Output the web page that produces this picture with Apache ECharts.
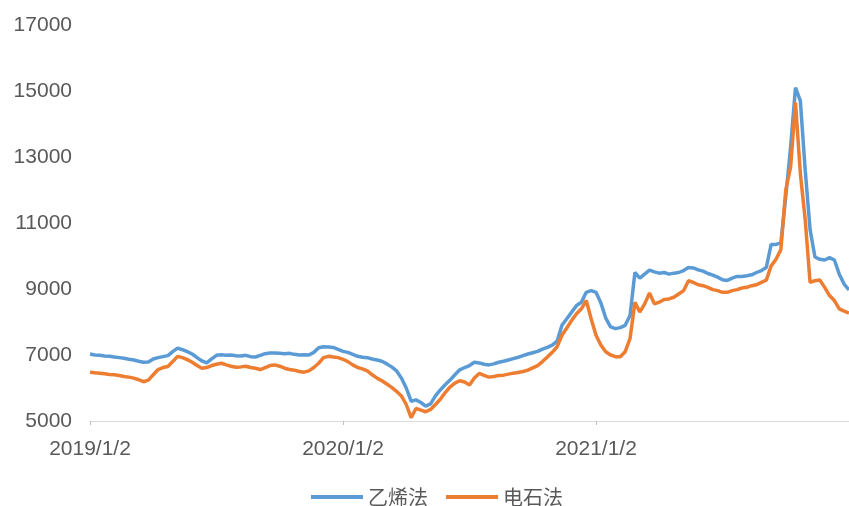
<!DOCTYPE html>
<html>
<head>
<meta charset="utf-8">
<script src="https://cdn.jsdelivr.net/npm/echarts@6/dist/echarts.min.js"></script>
<style>
html,body{margin:0;padding:0;background:#fff;}
#chart{width:849px;height:506px;}
</style>
</head>
<body>
<div id="chart"></div>
<script>
// weekly samples starting 2019/1/2
const startDate = [2019, 1, 2];
const tickLabels = ['2019/1/2', '2020/1/2', '2021/1/2'];
const seriesNames = ['乙烯法', '电石法'];

const ethylene = [
  7030, 7000, 6990, 6970, 6960, 6940, 6920, 6900, 6870, 6850,
  6810, 6780, 6790, 6880, 6920, 6950, 6980, 7100, 7210, 7160,
  7100, 7030, 6920, 6820, 6760, 6880, 6990, 7010, 6990, 7000,
  6980, 6970, 6990, 6950, 6940, 6990, 7040, 7060, 7060, 7050,
  7040, 7050, 7020, 7000, 7010, 7000, 7080, 7220, 7250, 7240,
  7230, 7170, 7110, 7080, 7020, 6960, 6930, 6920, 6880, 6850,
  6810, 6730, 6640, 6520, 6300, 6000, 5600, 5640, 5560, 5450,
  5520, 5760, 5940, 6100, 6240, 6400, 6550, 6620, 6680, 6780,
  6760, 6720, 6700, 6730, 6780, 6810, 6850, 6890, 6930, 6980,
  7030, 7070, 7110, 7180, 7230, 7300, 7420, 7900, 8100, 8300,
  8500, 8600, 8900, 8950, 8900, 8580, 8120, 7850, 7800, 7830,
  7900, 8200, 9500, 9330, 9450, 9570, 9520, 9480, 9500, 9450,
  9480, 9500, 9560, 9650, 9640, 9580, 9540, 9470, 9420, 9360,
  9280, 9260, 9330, 9380, 9380, 9400, 9430, 9500, 9560, 9650,
  10350, 10350, 10400, 11800, 13300, 15100, 14700, 12600, 10800, 9970,
  9900, 9880, 9950, 9880, 9450, 9150, 8970
];

const carbide = [
  6480, 6460, 6450, 6430, 6410, 6400, 6380, 6350, 6330, 6300,
  6250, 6190, 6240, 6400, 6560, 6620, 6650, 6800, 6960, 6920,
  6860, 6780, 6680, 6600, 6620, 6680, 6720, 6750, 6700, 6660,
  6630, 6640, 6660, 6620, 6600, 6560, 6620, 6680, 6700, 6660,
  6600, 6560, 6540, 6500, 6480, 6520, 6620, 6750, 6920, 6960,
  6940, 6920, 6870, 6800, 6700, 6620, 6580, 6520, 6400, 6300,
  6220, 6120, 6020, 5900, 5760, 5500, 5100, 5380, 5330, 5280,
  5350, 5500, 5660, 5860, 6030, 6150, 6220, 6180, 6090, 6300,
  6440, 6380, 6330, 6350, 6380, 6390, 6420, 6450, 6470, 6500,
  6540, 6610, 6680, 6800, 6940, 7080, 7250, 7600, 7820, 8050,
  8250, 8400, 8650, 8100, 7600, 7300, 7100, 7000, 6950, 6950,
  7100, 7500, 8600, 8300, 8550, 8880, 8550, 8600, 8680, 8700,
  8750, 8850, 8950, 9250, 9200, 9130, 9100, 9050, 8980, 8950,
  8900, 8900, 8950, 8980, 9030, 9050, 9100, 9130, 9200, 9270,
  9700, 9900, 10200, 12000, 12700, 14650, 12500, 11100, 9200, 9250,
  9270, 9050, 8800, 8650, 8400, 8330, 8270
];

// category labels: one per weekly sample
const categories = [];
{
  const d0 = new Date(startDate[0], startDate[1] - 1, startDate[2]);
  for (let i = 0; i < ethylene.length; i++) {
    const d = new Date(d0.getTime() + i * 7 * 86400000);
    categories.push(d.getFullYear() + '/' + (d.getMonth() + 1) + '/' + d.getDate());
  }
}
const labelStep = 52;
const showIdx = (idx) => idx % labelStep === 0 && idx / labelStep < tickLabels.length;

const chart = echarts.init(document.getElementById('chart'));
chart.setOption({
  animation: false,
  backgroundColor: '#ffffff',
  textStyle: { fontFamily: 'Liberation Sans, Arial, sans-serif' },
  grid: { left: 90, right: 0, top: 25, bottom: 85, containLabel: false },
  legend: {
    top: 482,
    left: 306,
    icon: 'rect',
    itemWidth: 52,
    itemHeight: 4,
    itemGap: 18,
    textStyle: { color: '#595959', fontSize: 20, fontFamily: 'Noto Sans CJK SC, sans-serif' },
    data: seriesNames
  },
  xAxis: {
    type: 'category',
    data: categories,
    boundaryGap: false,
    axisLine: { lineStyle: { color: '#d9d9d9', width: 1 } },
    axisTick: { show: true, length: 4, interval: (idx) => showIdx(idx), lineStyle: { color: '#bfbfbf' } },
    axisLabel: {
      interval: (idx) => showIdx(idx),
      formatter: (val, idx) => tickLabels[Math.round(idx / labelStep)] || '',
      color: '#595959',
      fontSize: 21,
      margin: 18,
      hideOverlap: false
    },
    splitLine: { show: false }
  },
  yAxis: {
    type: 'value',
    min: 5000,
    max: 17000,
    interval: 2000,
    axisLine: { show: false },
    axisTick: { show: false },
    splitLine: { show: false },
    axisLabel: { color: '#595959', fontSize: 21, margin: 18, formatter: (v) => String(v) }
  },
  series: [
    {
      name: seriesNames[0],
      type: 'line',
      data: ethylene,
      showSymbol: false,
      symbol: 'none',
      lineStyle: { color: '#5B9BD5', width: 3.5 },
      itemStyle: { color: '#5B9BD5' }
    },
    {
      name: seriesNames[1],
      type: 'line',
      data: carbide,
      showSymbol: false,
      symbol: 'none',
      lineStyle: { color: '#ED7D31', width: 3.5 },
      itemStyle: { color: '#ED7D31' }
    }
  ]
});
</script>
</body>
</html>
